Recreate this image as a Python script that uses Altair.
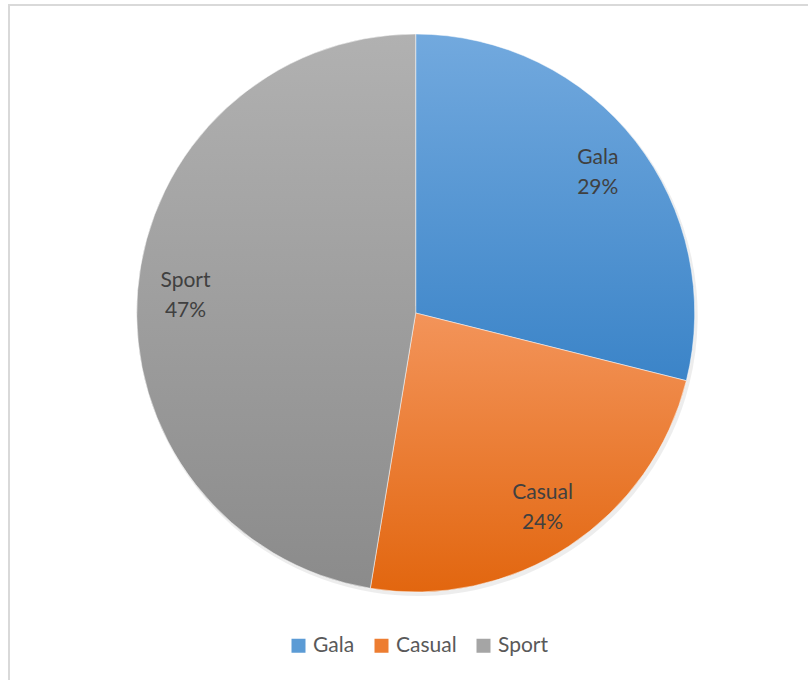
import math
import altair as alt
import pandas as pd

categories = ["Gala", "Casual", "Sport"]
values = [28.9, 23.7, 47.4]
flat_colors = ["#5b9bd5", "#ed7d31", "#a5a5a5"]
grad_top = ["#72a9de", "#f3945a", "#b1b1b1"]
grad_bottom = ["#3b84c8", "#e2660f", "#8b8b8b"]

total = sum(values)
starts, ends = [], []
acc = 0.0
for v in values:
    starts.append(acc)
    acc += v
    ends.append(acc)
df = pd.DataFrame({"cat": categories, "value": values, "start": starts, "end": ends})
df["mid"] = (df["start"] + df["end"]) / 2
df["label"] = [f"{c}\n{round(v / total * 100)}%" for c, v in zip(categories, values)]

CX, CY, R = 406.7, 308, 279
theta_scale = alt.Scale(domain=[0, total], range=[0, 2 * math.pi])
base = alt.Chart(df)

legend_layer = base.mark_square(size=196, opacity=1).encode(
    x=alt.value(CX), y=alt.value(CY),
    color=alt.Color(
        "cat:N",
        scale=alt.Scale(domain=categories, range=flat_colors),
        legend=alt.Legend(
            title=None, orient="none", direction="horizontal",
            legendX=279, legendY=630, padding=0,
            symbolType="square", symbolSize=196, symbolStrokeWidth=0,
            labelFont="Lato", labelFontSize=21, labelColor="#595959",
            labelOffset=4, columnPadding=16,
        ),
    ),
)

shadow = base.mark_arc(radius=R + 1, color="#000000", opacity=0.07).encode(
    theta=alt.Theta("start:Q", scale=theta_scale, stack=None),
    theta2="end:Q",
    x=alt.value(CX + 2), y=alt.value(CY + 3),
)

arc_layers = []
for c, t, b in zip(categories, grad_top, grad_bottom):
    grad = alt.Gradient(
        gradient="linear",
        stops=[alt.GradientStop(offset=0, color=t), alt.GradientStop(offset=1, color=b)],
        x1=0, x2=0, y1=0, y2=1,
    )
    arc_layers.append(
        base.transform_filter(alt.datum.cat == c)
        .mark_arc(radius=R, color=grad, stroke="#ffffff", strokeWidth=0.5)
        .encode(
            theta=alt.Theta("start:Q", scale=theta_scale, stack=None),
            theta2="end:Q",
            x=alt.value(CX), y=alt.value(CY),
        )
    )

labels = base.mark_text(
    font="Lato", fontSize=21, color="#404040", lineBreak="\n", lineHeight=30,
    align="center", baseline="middle", dy=-13,
).encode(
    theta=alt.Theta("mid:Q", scale=theta_scale, stack=None),
    radius=alt.value(231),
    x=alt.value(CX), y=alt.value(CY),
    text="label:N",
)

chart = alt.layer(legend_layer, shadow, *arc_layers, labels).properties(
    width=802, height=678,
    padding={"left": 9, "top": 5, "right": -3, "bottom": -3},
    autosize="none",
).configure_view(stroke="#d9d9d9", strokeWidth=2)

chart.save("out.html", embed_options={"renderer": "svg", "actions": False})
